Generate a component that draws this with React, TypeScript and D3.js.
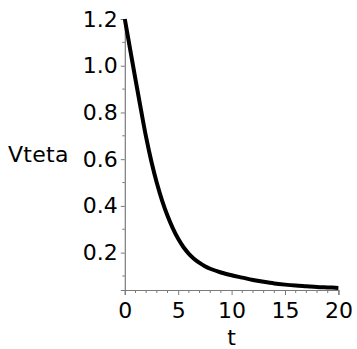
import React, { useEffect, useRef } from "react";
import * as d3 from "d3";

// Sampled curve values
const tValues = [0, 0.5, 1, 1.5, 2, 2.5, 3, 3.5, 4, 4.5, 5, 5.5, 6, 6.5, 7, 7.5, 8, 9, 10, 11, 12, 13, 14, 15, 16, 17, 18, 19, 20];
const vtetaValues = [
  1.2, 1.07, 0.942, 0.815, 0.693, 0.588, 0.498, 0.422, 0.358, 0.304, 0.259, 0.223, 0.195, 0.173, 0.156, 0.142,
  0.131, 0.115, 0.103, 0.093, 0.083, 0.075, 0.068, 0.063, 0.059, 0.056, 0.053, 0.051, 0.049,
];

const xMajorTicks = [0, 5, 10, 15, 20];
const xMinorTicks = [1, 2, 3, 4, 6, 7, 8, 9, 11, 12, 13, 14, 16, 17, 18, 19];
const yMajorTicks = [0.2, 0.4, 0.6, 0.8, 1.0, 1.2];
const yMinorTicks = [0.1, 0.3, 0.5, 0.7, 0.9, 1.1];

const xLabel = "t";
const yLabel = "Vteta";

const W = 357;
const H = 349;
const FONT = "'DejaVu Sans', Verdana, sans-serif";

export default function App() {
  const ref = useRef<SVGSVGElement>(null);

  useEffect(() => {
    const svg = d3.select(ref.current);
    svg.selectAll("*").remove();

    const x = d3.scaleLinear().domain([0, 20]).range([124.8, 338.4]);
    const y = d3.scaleLinear().domain([0.04, 1.2]).range([290, 19]);
    const axisColor = "#7a7a7a";

    // axes
    const xAxis = d3
      .axisBottom(x)
      .tickValues(xMajorTicks)
      .tickSize(5)
      .tickPadding(7)
      .tickFormat(d3.format("d") as any);
    const gx = svg.append("g").attr("transform", `translate(0,${y(0.04)})`).call(xAxis);
    gx.select(".domain").attr("stroke", axisColor).attr("stroke-width", 1.2);
    gx.selectAll(".tick line").attr("stroke", axisColor);
    gx.selectAll(".tick text").attr("fill", "#000").style("font-family", FONT).style("font-size", "22px");
    gx.selectAll(".minor")
      .data(xMinorTicks)
      .enter()
      .append("line")
      .attr("x1", (d) => x(d))
      .attr("x2", (d) => x(d))
      .attr("y1", 0)
      .attr("y2", 3)
      .attr("stroke", axisColor);

    const yAxis = d3
      .axisLeft(y)
      .tickValues(yMajorTicks)
      .tickSize(4)
      .tickPadding(3)
      .tickFormat(d3.format(".1f") as any);
    const gy = svg.append("g").attr("transform", `translate(${x(0)},0)`).call(yAxis);
    gy.select(".domain").attr("stroke", axisColor).attr("stroke-width", 1.2);
    gy.selectAll(".tick line").attr("stroke", axisColor);
    gy.selectAll(".tick text").attr("fill", "#000").style("font-family", FONT).style("font-size", "22px");
    gy.selectAll(".minor")
      .data(yMinorTicks)
      .enter()
      .append("line")
      .attr("x1", 0)
      .attr("x2", -2.5)
      .attr("y1", (d) => y(d))
      .attr("y2", (d) => y(d))
      .attr("stroke", axisColor);

    // curve
    const pts = tValues.map((t, i) => [t, vtetaValues[i]] as [number, number]);
    const line = d3
      .line<[number, number]>()
      .x((d) => x(d[0]))
      .y((d) => y(d[1]))
      .curve(d3.curveCatmullRom.alpha(0.5));
    svg
      .append("path")
      .attr("d", line(pts))
      .attr("fill", "none")
      .attr("stroke", "#000")
      .attr("stroke-width", 4)
      .attr("stroke-linecap", "butt");

    // axis titles
    svg
      .append("text")
      .attr("x", x(10))
      .attr("y", 345)
      .attr("text-anchor", "middle")
      .style("font-family", FONT)
      .style("font-size", "22px")
      .text(xLabel);
    svg
      .append("text")
      .attr("x", 8)
      .attr("y", 162)
      .attr("text-anchor", "start")
      .style("font-family", FONT)
      .style("font-size", "22px")
      .style("letter-spacing", "0.3px")
      .text(yLabel);
  }, []);

  return (
    <svg
      ref={ref}
      width={W}
      height={H}
      style={{ position: "absolute", left: 0, top: 0, background: "#fff" }}
    />
  );
}
